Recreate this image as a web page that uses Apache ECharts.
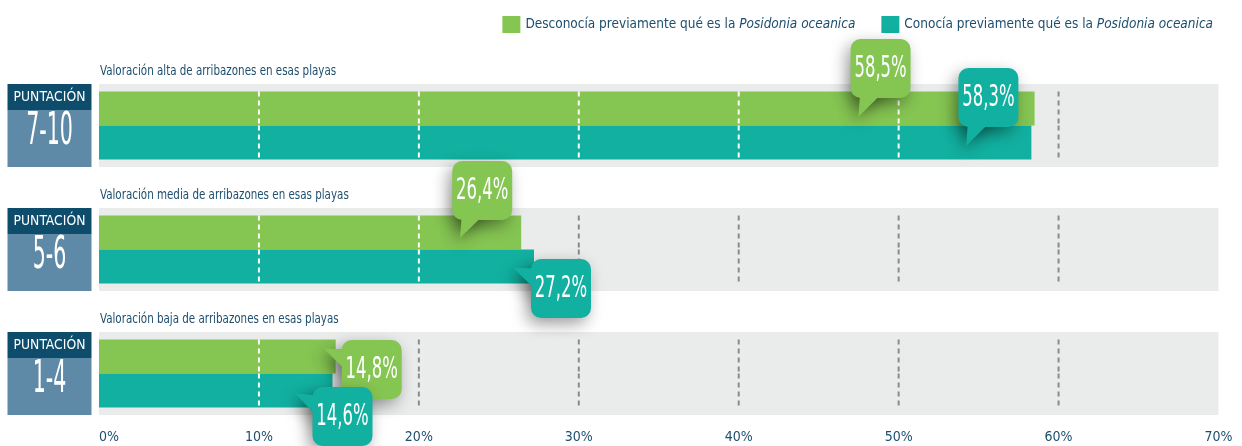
<!DOCTYPE html>
<html>
<head>
<meta charset="utf-8">
<title>Valoración de arribazones</title>
<script src="https://cdn.jsdelivr.net/npm/echarts@6/dist/echarts.min.js"></script>
<style>
  html, body { margin: 0; padding: 0; background: #fff; }
  #main { width: 1242px; height: 446px; }
</style>
</head>
<body>
<div id="main"></div>
<script>
// datos
var categories = ['7-10', '5-6', '1-4'];
var groupTitles = [
  'Valoración alta de arribazones en esas playas',
  'Valoración media de arribazones en esas playas',
  'Valoración baja de arribazones en esas playas'
];
var seriesNames = [
  'Desconocía previamente qué es la Posidonia oceanica',
  'Conocía previamente qué es la Posidonia oceanica'
];
var unaware = [58.5, 26.4, 14.8];
var aware = [58.3, 27.2, 14.6];
var ticks = [0, 10, 20, 30, 40, 50, 60, 70];

// estilo
var GREEN = '#85c552', TEAL = '#12b0a0';
var BAND = '#e9ecea', TXT = '#1d4e6e';
var NARROW = '"DejaVu Sans Condensed", "Liberation Sans Narrow", sans-serif';
var BAR_W = 34, BAND_W = 83;
var colors = [GREEN, TEAL];
// posicion de cada globo respecto al final de su barra: centro (c) y punta (t)
var calloutLayout = [
  [{ c: [-154, -40], t: [-176, 8] }, { c: [-43, -45], t: [-65, 3] }],
  [{ c: [-39, -42], t: [-61, 5] }, { c: [27, 22], t: [-21, 1] }],
  [{ c: [36, 13], t: [-12, -8] }, { c: [10, 26], t: [-37, 3] }]
];

var values = [unaware, aware];
var xMax = ticks[ticks.length - 1];

var gridData = [];
var calloutData = [];
categories.forEach(function (c, g) {
  values.forEach(function (arr, b) {
    ticks.slice(1, -1).forEach(function (t) {
      gridData.push([t, g, b, arr[g]]);
    });
    calloutData.push([arr[g], g, b]);
  });
});

function fmt(v) {
  return v.toFixed(1).replace('.', ',') + '%';
}

var chart = echarts.init(document.getElementById('main'));

chart.setOption({
  animation: false,
  legend: {
    data: seriesNames,
    right: 24,
    top: 11,
    itemWidth: 18,
    itemHeight: 17,
    itemGap: 26,
    icon: 'rect',
    formatter: function (name) {
      var i = name.indexOf('Posidonia');
      return '{n|' + name.slice(0, i) + '}{i|' + name.slice(i) + '}';
    },
    textStyle: {
      rich: {
        n: { fontFamily: NARROW, fontSize: 13.5, color: TXT },
        i: { fontFamily: NARROW, fontSize: 13.5, color: TXT, fontStyle: 'italic' }
      }
    }
  },
  grid: { left: 99, right: 23.5, top: 63.5, bottom: 10.5 },
  xAxis: [{
    type: 'value', min: 0, max: xMax, interval: 10,
    axisLine: { show: false }, axisTick: { show: false }, splitLine: { show: false },
    axisLabel: {
      formatter: '{value}%', color: TXT, fontFamily: NARROW, fontSize: 14,
      verticalAlign: 'middle', margin: 1.5, alignMinLabel: 'left'
    }
  }, {
    type: 'value', min: 0, max: xMax, show: false
  }],
  yAxis: [
    { type: 'category', data: categories, inverse: true, show: false },
    { type: 'category', data: categories, inverse: true, show: false }
  ],
  series: [{
    type: 'bar', name: 'band', xAxisIndex: 1, yAxisIndex: 1,
    data: categories.map(function () { return xMax; }),
    barWidth: BAND_W, itemStyle: { color: BAND }, silent: true, z: 1
  }, {
    type: 'bar', name: seriesNames[0], data: unaware,
    barWidth: BAR_W, barGap: 0, itemStyle: { color: GREEN }, z: 2
  }, {
    type: 'bar', name: seriesNames[1], data: aware,
    barWidth: BAR_W, barGap: 0, itemStyle: { color: TEAL }, z: 2
  }, {
    // lineas de division discontinuas: blancas sobre la barra, grises fuera
    type: 'custom', name: 'grid', data: gridData, silent: true, z: 3,
    encode: { x: 0, y: 1 },
    renderItem: function (params, api) {
      var p = api.coord([api.value(0), api.value(1)]);
      var b = api.value(2);
      var y0 = b === 0 ? p[1] - BAR_W : p[1];
      var inside = api.value(0) < api.value(3);
      return {
        type: 'line',
        shape: { x1: p[0], y1: y0, x2: p[0], y2: y0 + BAR_W },
        style: { stroke: inside ? '#ffffff' : '#8a8c8c', lineWidth: 2, lineDash: [5, 4] }
      };
    }
  }, {
    // etiquetas de la izquierda y titulos de cada grupo
    type: 'custom', name: 'decor', silent: true, z: 3,
    data: categories.map(function (c, i) { return [0, i]; }),
    encode: { x: 0, y: 1 },
    renderItem: function (params, api) {
      var i = params.dataIndex;
      var p = api.coord([0, i]);
      var cy = p[1], x0 = p[0] - 91.5;
      return {
        type: 'group',
        children: [{
          type: 'rect', shape: { x: x0, y: cy - 41.5, width: 84, height: 26 },
          style: { fill: '#0e4c6c' }
        }, {
          type: 'rect', shape: { x: x0, y: cy - 15.5, width: 84, height: 57 },
          style: { fill: '#5e8aa7' }
        }, {
          type: 'text', x: x0 + 42, y: cy - 28.5, scaleX: 0.95,
          style: { text: 'PUNTACIÓN', fill: '#fff', font: '14.5px ' + NARROW, align: 'center', verticalAlign: 'middle' }
        }, {
          type: 'text', x: x0 + 42, y: cy + 7.5, scaleX: 0.52,
          style: { text: categories[i], fill: '#fff', font: '44px ' + NARROW, align: 'center', verticalAlign: 'middle' }
        }, {
          type: 'text', x: p[0] + 1, y: cy - 54, scaleX: 0.82,
          style: { text: groupTitles[i], fill: TXT, font: '14px ' + NARROW, align: 'left', verticalAlign: 'middle' }
        }]
      };
    }
  }, {
    // globos con el porcentaje
    type: 'custom', name: 'callouts', silent: true, z: 5,
    data: calloutData,
    encode: { x: 0, y: 1 },
    renderItem: function (params, api) {
      var v = api.value(0), g = api.value(1), b = api.value(2);
      var p = api.coord([v, g]);
      var ey = p[1] + (b === 0 ? -BAR_W / 2 : BAR_W / 2);
      var lay = calloutLayout[g][b];
      var cx = p[0] + lay.c[0], cy = ey + lay.c[1];
      var tx = p[0] + lay.t[0], ty = ey + lay.t[1];
      var dx = tx - cx, dy = ty - cy;
      var len = Math.sqrt(dx * dx + dy * dy);
      var nx = -dy / len * 20, ny = dx / len * 20;
      var tri = [[tx, ty], [cx + nx, cy + ny], [cx - nx, cy - ny]];
      var col = colors[b];
      var shadow = { shadowBlur: 16, shadowColor: 'rgba(0,0,0,0.38)', shadowOffsetX: -4, shadowOffsetY: 6 };
      return {
        type: 'group',
        children: [{
          type: 'polygon', shape: { points: tri },
          style: Object.assign({ fill: col }, shadow)
        }, {
          type: 'rect', shape: { x: cx - 30, y: cy - 29.5, width: 60, height: 59, r: 10 },
          style: Object.assign({ fill: col }, shadow)
        }, {
          type: 'polygon', shape: { points: tri }, style: { fill: col }
        }, {
          type: 'text', x: cx, y: cy + 1, scaleX: 0.61,
          style: { text: fmt(v), fill: '#fff', font: '30px ' + NARROW, align: 'center', verticalAlign: 'middle' }
        }]
      };
    }
  }]
});
</script>
</body>
</html>
